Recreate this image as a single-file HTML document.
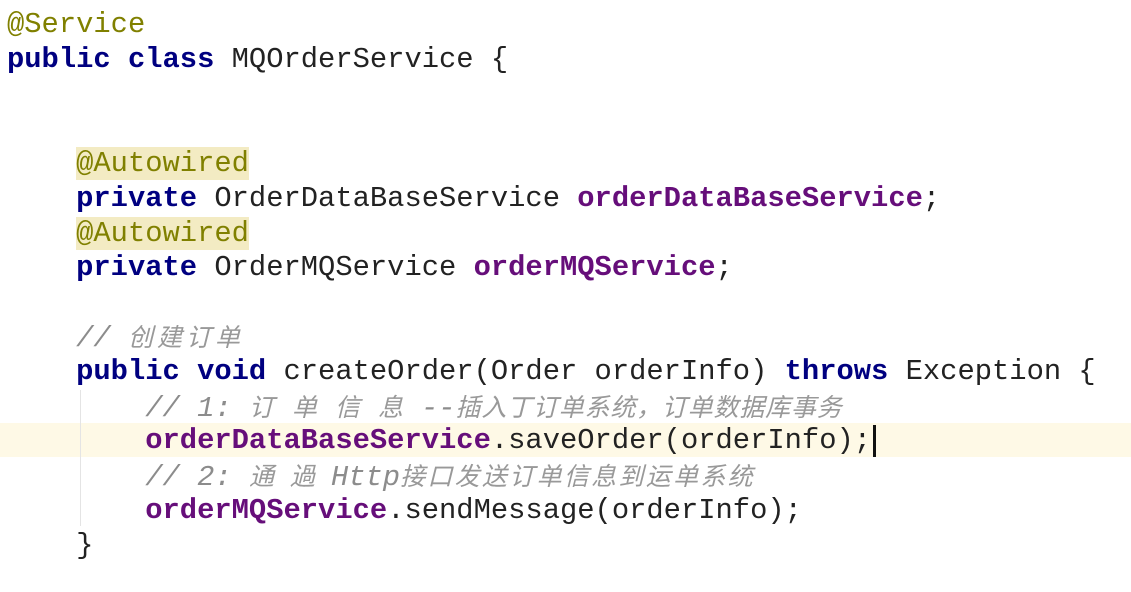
<!DOCTYPE html>
<html><head><meta charset="utf-8"><style>
html,body{margin:0;padding:0;background:#fff;width:1131px;height:592px;overflow:hidden;position:relative}
.l{position:absolute;left:7px;height:35px;line-height:35px;font-family:"Liberation Mono","Noto Sans CJK SC",monospace;font-size:28.8px;color:#222;white-space:pre}
.k{color:#000080;font-weight:bold}
.f{color:#660E7A;font-weight:bold}
.a{color:#808000}
.ab{color:#808000;background:#F3EBC3}
.c{color:#8c8c8c;font-style:italic}
.cj{font-family:"Noto Sans CJK SC","WenQuanYi Zen Hei",sans-serif;font-style:italic;color:#999;font-size:25px}
</style></head><body>
<div style="position:absolute;left:0;top:423px;width:1131px;height:34px;background:#FEF9E6"></div>
<div style="position:absolute;left:80px;top:390px;width:1px;height:136px;background:#e4e4e4"></div>
<div style="position:absolute;left:873px;top:425px;width:3px;height:32px;background:#111"></div>
<div class="l" style="top:7px"><span class="a">@Service</span></div>
<div class="l" style="top:42px"><span class="k">public class</span> MQOrderService {</div>
<div class="l" style="top:146px">    <span class="ab">@Autowired</span></div>
<div class="l" style="top:181px">    <span class="k">private</span> OrderDataBaseService <span class="f">orderDataBaseService</span>;</div>
<div class="l" style="top:216px">    <span class="ab">@Autowired</span></div>
<div class="l" style="top:250px">    <span class="k">private</span> OrderMQService <span class="f">orderMQService</span>;</div>
<div class="l" style="top:319px">    <span class="c">// </span><span class="cj" style="letter-spacing:4px">创建订单</span></div>
<div class="l" style="top:354px">    <span class="k">public void</span> createOrder(Order orderInfo) <span class="k">throws</span> Exception {</div>
<div class="l" style="top:389px">        <span class="c">// 1: </span><span class="cj" style="letter-spacing:18px">订单信息</span><span class="c">--</span><span class="cj" style="letter-spacing:0.8px">插入丁订单系统，订单数据库事务</span></div>
<div class="l" style="top:423px">        <span class="f">orderDataBaseService</span>.saveOrder(orderInfo);</div>
<div class="l" style="top:458px">        <span class="c">// 2: </span><span class="cj" style="letter-spacing:16px">通過</span><span class="c">Http</span><span class="cj" style="letter-spacing:2.3px">接口发送订单信息到运单系统</span></div>
<div class="l" style="top:493px">        <span class="f">orderMQService</span>.sendMessage(orderInfo);</div>
<div class="l" style="top:528px">    }</div>
</body></html>
